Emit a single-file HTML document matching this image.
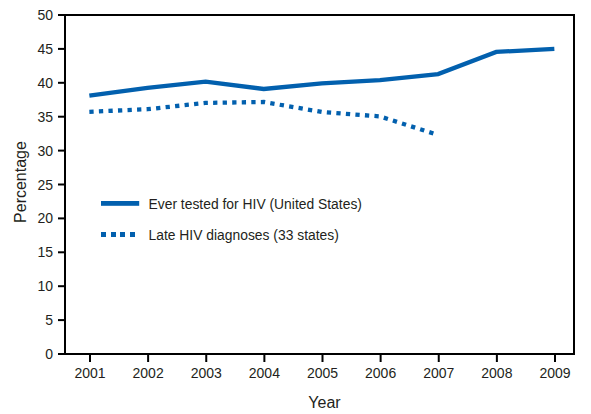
<!DOCTYPE html>
<html><head><meta charset="utf-8"><style>
html,body{margin:0;padding:0;background:#fff;}
body{width:591px;height:414px;overflow:hidden;}
svg{display:block;}
.t{font-family:"Liberation Sans",sans-serif;font-size:14px;fill:#231f20;}
.L{font-family:"Liberation Sans",sans-serif;font-size:15px;fill:#231f20;}
.a{font-family:"Liberation Sans",sans-serif;font-size:16px;fill:#231f20;}
</style></head><body>
<svg width="591" height="414" viewBox="0 0 591 414">
<rect x="64" y="14" width="2" height="341" fill="#000"/>
<rect x="58" y="14" width="517" height="2" fill="#000"/>
<rect x="573" y="14" width="2" height="341" fill="#000"/>
<rect x="58" y="353" width="517" height="2" fill="#000"/>
<rect x="58" y="353.00" width="7" height="2" fill="#000"/>
<text x="53" y="359.00" text-anchor="end" class="t">0</text>
<rect x="58" y="319.10" width="7" height="2" fill="#000"/>
<text x="53" y="325.10" text-anchor="end" class="t">5</text>
<rect x="58" y="285.20" width="7" height="2" fill="#000"/>
<text x="53" y="291.20" text-anchor="end" class="t">10</text>
<rect x="58" y="251.30" width="7" height="2" fill="#000"/>
<text x="53" y="257.30" text-anchor="end" class="t">15</text>
<rect x="58" y="217.40" width="7" height="2" fill="#000"/>
<text x="53" y="223.40" text-anchor="end" class="t">20</text>
<rect x="58" y="183.50" width="7" height="2" fill="#000"/>
<text x="53" y="189.50" text-anchor="end" class="t">25</text>
<rect x="58" y="149.60" width="7" height="2" fill="#000"/>
<text x="53" y="155.60" text-anchor="end" class="t">30</text>
<rect x="58" y="115.70" width="7" height="2" fill="#000"/>
<text x="53" y="121.70" text-anchor="end" class="t">35</text>
<rect x="58" y="81.80" width="7" height="2" fill="#000"/>
<text x="53" y="87.80" text-anchor="end" class="t">40</text>
<rect x="58" y="47.90" width="7" height="2" fill="#000"/>
<text x="53" y="53.90" text-anchor="end" class="t">45</text>
<rect x="58" y="14.00" width="7" height="2" fill="#000"/>
<text x="53" y="20.00" text-anchor="end" class="t">50</text>
<rect x="89.00" y="353" width="2" height="9" fill="#000"/>
<text x="90.00" y="377.8" text-anchor="middle" class="t">2001</text>
<rect x="147.12" y="353" width="2" height="9" fill="#000"/>
<text x="148.12" y="377.8" text-anchor="middle" class="t">2002</text>
<rect x="205.25" y="353" width="2" height="9" fill="#000"/>
<text x="206.25" y="377.8" text-anchor="middle" class="t">2003</text>
<rect x="263.38" y="353" width="2" height="9" fill="#000"/>
<text x="264.38" y="377.8" text-anchor="middle" class="t">2004</text>
<rect x="321.50" y="353" width="2" height="9" fill="#000"/>
<text x="322.50" y="377.8" text-anchor="middle" class="t">2005</text>
<rect x="379.62" y="353" width="2" height="9" fill="#000"/>
<text x="380.62" y="377.8" text-anchor="middle" class="t">2006</text>
<rect x="437.75" y="353" width="2" height="9" fill="#000"/>
<text x="438.75" y="377.8" text-anchor="middle" class="t">2007</text>
<rect x="495.88" y="353" width="2" height="9" fill="#000"/>
<text x="496.88" y="377.8" text-anchor="middle" class="t">2008</text>
<rect x="554.00" y="353" width="2" height="9" fill="#000"/>
<text x="555.00" y="377.8" text-anchor="middle" class="t">2009</text>
<polyline points="89.35,95.7 147.47,87.8 205.60,81.6 263.73,89 321.85,83.3 379.98,80.2 438.10,74.1 496.23,51.9 554.35,48.9" fill="none" stroke="#0260ae" stroke-width="4.3" stroke-linejoin="miter"/>
<polyline points="89.35,111.8 147.47,109.2 205.60,102.9 263.73,102 321.85,112 379.98,116.4 438.10,135" fill="none" stroke="#0260ae" stroke-width="4.3" stroke-dasharray="4.3 5.25"/>
<rect x="101" y="201" width="38.2" height="4.8" fill="#0260ae"/>
<rect x="101" y="232" width="5" height="5" fill="#0260ae"/>
<rect x="111" y="232" width="5" height="5" fill="#0260ae"/>
<rect x="120" y="232" width="5" height="5" fill="#0260ae"/>
<rect x="130" y="232" width="5" height="5" fill="#0260ae"/>
<text transform="translate(148.5,209.2) scale(0.925,1)" class="L">Ever tested for HIV (United States)</text>
<text transform="translate(148.5,239.9) scale(0.925,1)" class="L">Late HIV diagnoses (33 states)</text>
<text x="324.5" y="408" text-anchor="middle" class="a">Year</text>
<text transform="translate(25.8,182) rotate(-90)" text-anchor="middle" class="a">Percentage</text>
</svg>
</body></html>
